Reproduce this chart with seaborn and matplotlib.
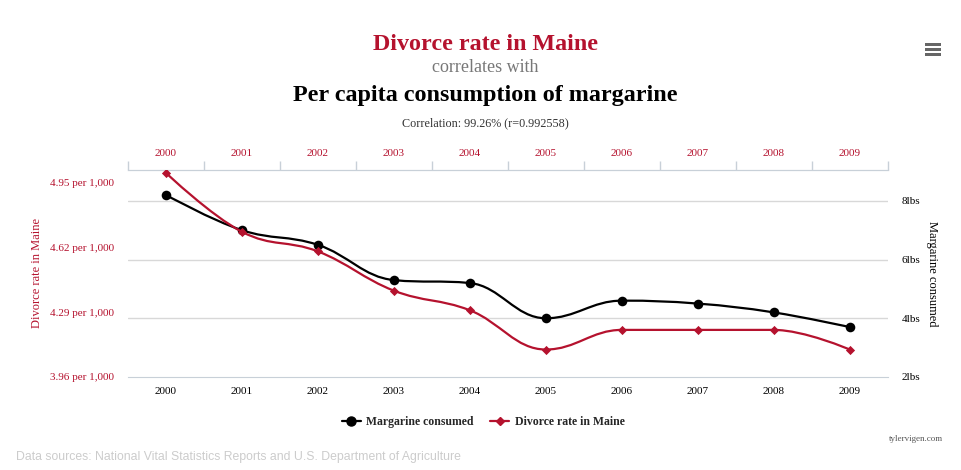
import numpy as np
import pandas as pd
import matplotlib
matplotlib.use("Agg")
import matplotlib.pyplot as plt
from matplotlib.path import Path
from matplotlib.patches import PathPatch, Rectangle
from matplotlib.lines import Line2D
from matplotlib.ticker import FixedLocator, FixedFormatter
import seaborn as sns

years = ["2000", "2001", "2002", "2003", "2004", "2005", "2006", "2007", "2008", "2009"]
divorce = [5.0, 4.7, 4.6, 4.4, 4.3, 4.1, 4.2, 4.2, 4.2, 4.1]
margarine = [8.2, 7.0, 6.5, 5.3, 5.2, 4.0, 4.6, 4.5, 4.2, 3.7]
left_ticks = [3.96, 4.29, 4.62, 4.95]
left_labels = ["3.96 per 1,000", "4.29 per 1,000", "4.62 per 1,000", "4.95 per 1,000"]
right_ticks = [2, 4, 6, 8]
right_labels = ["2lbs", "4lbs", "6lbs", "8lbs"]

RED = "#b5122e"
AXIS = "#c8d0d8"
GRID = "#d8d8d8"

sns.set_style("white")
plt.rcParams['font.family'] = ['Liberation Serif', 'DejaVu Serif']

df = pd.DataFrame({"year": years, "pos": np.arange(len(years)),
                   "divorce": divorce, "margarine": margarine})


def spline(xs, ys, smoothing=1.5):
    # highcharts style spline control points
    n = len(xs)
    lc = [None] * n
    rc = [None] * n
    d = smoothing + 1
    for i in range(1, n - 1):
        px, py = xs[i], ys[i]
        lx, ly = xs[i - 1], ys[i - 1]
        nx, ny = xs[i + 1], ys[i + 1]
        lcx = (smoothing * px + lx) / d
        lcy = (smoothing * py + ly) / d
        rcx = (smoothing * px + nx) / d
        rcy = (smoothing * py + ny) / d
        if rcx != lcx:
            corr = (rcy - lcy) * (rcx - px) / (rcx - lcx) + py - rcy
            lcy += corr
            rcy += corr
        if lcy > ly and lcy > py:
            lcy = max(ly, py)
            rcy = 2 * py - lcy
        elif lcy < ly and lcy < py:
            lcy = min(ly, py)
            rcy = 2 * py - lcy
        if rcy > ny and rcy > py:
            rcy = max(ny, py)
            lcy = 2 * py - rcy
        elif rcy < ny and rcy < py:
            rcy = min(ny, py)
            lcy = 2 * py - rcy
        lc[i] = (lcx, lcy)
        rc[i] = (rcx, rcy)
    verts = [(xs[0], ys[0])]
    codes = [Path.MOVETO]
    for i in range(1, n):
        c1 = rc[i - 1] if rc[i - 1] else (xs[i - 1], ys[i - 1])
        c2 = lc[i] if lc[i] else (xs[i], ys[i])
        verts += [c1, c2, (xs[i], ys[i])]
        codes += [Path.CURVE4] * 3
    return Path(verts, codes)


fig = plt.figure(figsize=(9.61, 4.70), dpi=100, facecolor="white")
ax = fig.add_axes([0.1332, 0.1979, 0.7905, 0.4404])
ax2 = ax.twinx()
ax.set_zorder(ax2.get_zorder() + 1)
ax.patch.set_visible(False)

ax.set_xlim(-0.5, 9.5)
ax.set_ylim(3.96, 5.015)
ax2.set_ylim(2, 9.05)

# margarine (right axis)
ax2.add_patch(PathPatch(spline(df["pos"].tolist(), df["margarine"].tolist()),
                        fill=False, edgecolor="black", lw=1.6, zorder=3))
sns.scatterplot(data=df, x="pos", y="margarine", ax=ax2, color="black", marker="o",
                s=48, edgecolor="black", linewidth=0, zorder=4, legend=False)
# divorce (left axis)
ax.add_patch(PathPatch(spline(df["pos"].tolist(), df["divorce"].tolist()),
                       fill=False, edgecolor=RED, lw=1.6, zorder=3))
sns.scatterplot(data=df, x="pos", y="divorce", ax=ax, color=RED, marker="D",
                s=22, edgecolor=RED, linewidth=0, zorder=4, legend=False)

for a in (ax, ax2):
    for s in a.spines.values():
        s.set_visible(False)
    a.set_xlabel("")
    a.set_ylabel("")

ax.spines["bottom"].set_visible(True)
ax.spines["bottom"].set_color(AXIS)
ax.spines["top"].set_visible(True)
ax.spines["top"].set_color(AXIS)

# x axis: labels at centres, tick marks at band edges
ax.xaxis.set_major_locator(FixedLocator(df["pos"]))
ax.xaxis.set_major_formatter(FixedFormatter(years))
ax.xaxis.set_minor_locator(FixedLocator(np.arange(-0.5, 10, 1)))
ax.tick_params(axis="x", which="major", length=0, pad=7, labelsize=8, labelcolor="black")
ax.tick_params(axis="x", which="minor", length=6.5, color=AXIS, width=1, direction="out")

top = ax.secondary_xaxis("top")
top.set_xticks(df["pos"])
top.set_xticklabels(years)
top.xaxis.set_minor_locator(FixedLocator(np.arange(-0.5, 10, 1)))
top.tick_params(axis="x", which="major", length=0, pad=8.5, labelsize=8, labelcolor=RED)
top.tick_params(axis="x", which="minor", length=6.5, color=AXIS, width=1, direction="out")
top.spines["top"].set_color(AXIS)

ax.set_yticks(left_ticks)
ax.set_yticklabels(left_labels)
ax.tick_params(axis="y", length=0, pad=10, labelsize=8, labelcolor=RED)
ax.set_ylabel("Divorce rate in Maine", color=RED, fontsize=9)
ax.yaxis.set_label_coords(-0.1119, 0.5)

ax2.set_yticks(right_ticks)
ax2.set_yticklabels(right_labels)
ax2.tick_params(axis="y", length=0, pad=10, labelsize=8, labelcolor="black")
ax2.grid(axis="y", color=GRID, lw=1)
ax2.yaxis.get_gridlines()[0].set_visible(False)
ax2.set_ylabel("Margarine consumed", color="black", fontsize=9, rotation=270)
ax2.yaxis.set_label_coords(1.0662, 0.5)

# titles
fig.text(0.505, 1 - 45 / 470, "Divorce rate in Maine", ha="center", va="center",
         fontsize=17.3, fontweight="bold", color=RED)
fig.text(0.505, 1 - 68 / 470, "correlates with", ha="center", va="center",
         fontsize=13, color="#777777")
fig.text(0.505, 1 - 95 / 470, "Per capita consumption of margarine", ha="center", va="center",
         fontsize=17.4, fontweight="bold", color="black")
fig.text(0.505, 1 - 123 / 470, "Correlation: 99.26% (r=0.992558)", ha="center", va="center",
         fontsize=8.7, color="#333333")

handles = [Line2D([], [], color="black", marker="o", markersize=6.5, lw=1.6),
           Line2D([], [], color=RED, marker="D", markersize=4.5, lw=1.6)]
fig.legend(handles, ["Margarine consumed", "Divorce rate in Maine"], loc="center",
           bbox_to_anchor=(0.503, 1 - 422 / 470), ncol=2, frameon=False,
           prop={"weight": "bold", "size": 8.5}, handlelength=1.6, columnspacing=1.4,
           handletextpad=0.5)

fig.text(943 / 961, 1 - 439 / 470, "tylervigen.com", ha="right", va="center",
         fontsize=6.5, color="#555555")
fig.text(16 / 961, 1 - 457 / 470, "Data sources: National Vital Statistics Reports and U.S. Department of Agriculture",
         ha="left", va="center", fontsize=8.8, color="#cccccc", family=["Liberation Sans", "DejaVu Sans"])

# menu icon
for yy in (44, 49, 54):
    fig.add_artist(Rectangle((925 / 961, 1 - (yy + 1.5) / 470), 16 / 961, 3 / 470,
                             transform=fig.transFigure, color="#666666", lw=0))

fig.savefig("out.png", dpi=100, facecolor="white")
